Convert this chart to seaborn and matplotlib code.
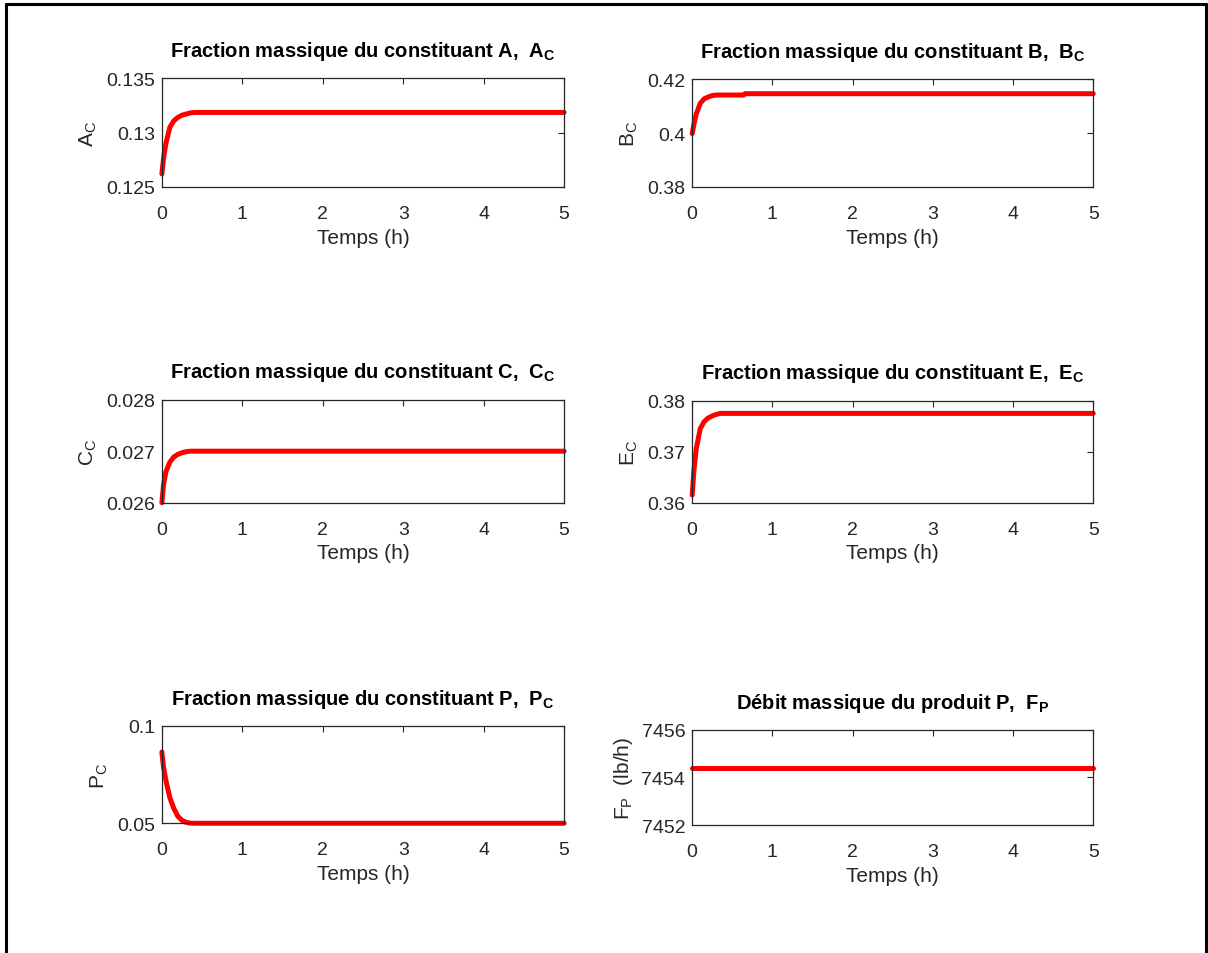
import matplotlib
matplotlib.use("Agg")
import matplotlib.pyplot as plt
from matplotlib.lines import Line2D
import seaborn as sns

# temps (h)
temps = [0, 0.02, 0.05, 0.1, 0.15, 0.2, 0.25, 0.3, 0.35, 0.4, 0.5, 0.64, 0.66, 1, 2, 3, 4, 5]

# fractions massiques et débit
A_c = [0.1262, 0.1276, 0.1290, 0.1305, 0.1311, 0.1314, 0.1316, 0.1317, 0.1318, 0.13185,
       0.13185, 0.13185, 0.13185, 0.13185, 0.13185, 0.13185, 0.13185, 0.13185]
B_c = [0.3998, 0.4030, 0.4070, 0.4110, 0.4127, 0.4134, 0.4139, 0.4141, 0.4141, 0.4141,
       0.4141, 0.4141, 0.4146, 0.4146, 0.4146, 0.4146, 0.4146, 0.4146]
C_c = [0.02600, 0.02634, 0.02660, 0.02679, 0.02689, 0.02694, 0.02697, 0.02699, 0.02700, 0.02700,
       0.02700, 0.02700, 0.02700, 0.02700, 0.02700, 0.02700, 0.02700, 0.02700]
E_c = [0.3615, 0.3660, 0.3705, 0.3745, 0.3759, 0.3766, 0.3770, 0.3773, 0.3775, 0.3775,
       0.3775, 0.3775, 0.3775, 0.3775, 0.3775, 0.3775, 0.3775, 0.3775]
P_c = [0.0866, 0.0790, 0.0720, 0.0630, 0.0575, 0.0535, 0.0515, 0.0505, 0.0501, 0.0500,
       0.0500, 0.0500, 0.0500, 0.0500, 0.0500, 0.0500, 0.0500, 0.0500]
F_p = [7454.4] * len(temps)

titres = [r"Fraction massique du constituant A,  A$_\mathbf{C}$",
          r"Fraction massique du constituant B,  B$_\mathbf{C}$",
          r"Fraction massique du constituant C,  C$_\mathbf{C}$",
          r"Fraction massique du constituant E,  E$_\mathbf{C}$",
          r"Fraction massique du constituant P,  P$_\mathbf{C}$",
          r"Débit massique du produit P,  F$_\mathbf{P}$"]
ylabels = [r"A$_\mathrm{C}$", r"B$_\mathrm{C}$", r"C$_\mathrm{C}$",
           r"E$_\mathrm{C}$", r"P$_\mathrm{C}$", r"F$_\mathrm{P}$  (lb/h)"]
yticks = [[0.125, 0.13, 0.135], [0.38, 0.4, 0.42], [0.026, 0.027, 0.028],
          [0.36, 0.37, 0.38], [0.05, 0.1], [7452, 7454, 7456]]
yticklabels = [["0.125", "0.13", "0.135"], ["0.38", "0.4", "0.42"], ["0.026", "0.027", "0.028"],
               ["0.36", "0.37", "0.38"], ["0.05", "0.1"], ["7452", "7454", "7456"]]
series = [A_c, B_c, C_c, E_c, P_c, F_p]

sns.set_style("white")
plt.rcParams["font.family"] = ["Liberation Sans", "DejaVu Sans"]
plt.rcParams["mathtext.fontset"] = "custom"
plt.rcParams["mathtext.rm"] = "Liberation Sans"
plt.rcParams["mathtext.bf"] = "Liberation Sans:bold"

fig = plt.figure(figsize=(12.08, 9.54), dpi=100)

# positions [gauche, bas, largeur, hauteur] en fraction de figure
positions = [[0.134, 0.803, 0.333, 0.114], [0.573, 0.803, 0.332, 0.113],
             [0.134, 0.472, 0.333, 0.108], [0.573, 0.472, 0.332, 0.107],
             [0.134, 0.136, 0.333, 0.102], [0.573, 0.134, 0.332, 0.100]]

gris = "#262626"
for i in range(6):
    ax = fig.add_axes(positions[i])
    sns.lineplot(x=temps, y=series[i], ax=ax, color="red", linewidth=3.6)
    for ln in ax.lines:
        ln.set_clip_on(False)
    ax.set_xlim(0, 5)
    ax.set_ylim(yticks[i][0], yticks[i][-1])
    ax.set_xticks([0, 1, 2, 3, 4, 5])
    ax.set_yticks(yticks[i])
    ax.set_yticklabels(yticklabels[i])
    ax.tick_params(direction="in", top=True, right=True, length=4, width=0.8,
                   labelsize=14, colors=gris, labelcolor=gris)
    ax.tick_params(axis="x", pad=13)
    ax.tick_params(axis="y", pad=5)
    for s in ax.spines.values():
        s.set_color(gris)
        s.set_linewidth(0.9)
    ax.set_title(titres[i], fontsize=14.5, fontweight="bold", pad=16, color="black")
    ax.set_ylabel(ylabels[i], fontsize=15, color=gris, labelpad=5)
    ax.set_xlabel("Temps (h)", fontsize=15, color=gris, labelpad=4)

# cadre extérieur
x0, x1, yh = 6 / 1208, 1206 / 1208, 1 - 5 / 954
for xs, ys in [([x0, x0], [0, yh]), ([x0, x1], [yh, yh]), ([x1, x1], [yh, 0])]:
    fig.add_artist(Line2D(xs, ys, transform=fig.transFigure, color="black", linewidth=2.2))

fig.savefig("out.png", dpi=100)
